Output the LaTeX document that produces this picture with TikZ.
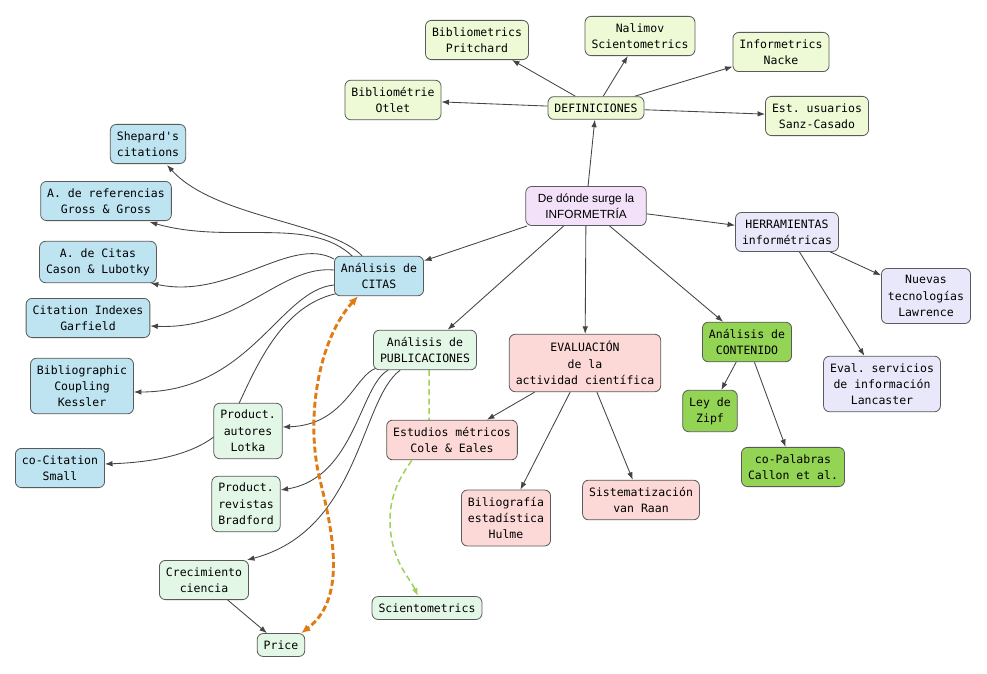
\documentclass[tikz,border=0pt]{standalone}
\usepackage{fontspec}
\setmonofont{DejaVu Sans Mono}
\newfontfamily\hsans{Liberation Sans}
\usetikzlibrary{arrows.meta,calc,backgrounds}
\definecolor{cdef}{HTML}{EEFAD6}
\definecolor{cblue}{HTML}{BEE3F1}
\definecolor{cpub}{HTML}{E2F7E6}
\definecolor{cpink}{HTML}{FCD9D6}
\definecolor{ccont}{HTML}{94D454}
\definecolor{cherr}{HTML}{E9E8FA}
\definecolor{cinf}{HTML}{F3E1FA}
\definecolor{boxline}{HTML}{5A5A5A}
\definecolor{edgec}{HTML}{444444}
\definecolor{corange}{HTML}{E07A12}
\definecolor{cgreend}{HTML}{9ED15A}
\begin{document}
\begin{tikzpicture}[x=1pt,y=-1pt,
  box/.style={draw=boxline, line width=0.8pt, rounded corners=6pt, align=center,
    font=\ttfamily\fontsize{11.5}{16.3}\selectfont, inner xsep=6.5pt, inner ysep=7pt},
  defb/.style={box, fill=cdef},
  blueb/.style={box, fill=cblue},
  pubb/.style={box, fill=cpub},
  pinkb/.style={box, fill=cpink},
  contb/.style={box, fill=ccont},
  herrb/.style={box, fill=cherr},
  infb/.style={box, fill=cinf, font=\hsans\fontsize{11.8}{16.3}\selectfont, inner xsep=12pt},
  link/.style={draw=edgec, line width=0.85pt, -{Latex[length=7.5pt,width=5.5pt]}},
  orangelink/.style={draw=corange, line width=2.9pt, dash pattern=on 6pt off 3pt,
    {Latex[length=9pt,width=8pt]}-{Latex[length=9pt,width=8pt]}},
  greenlink/.style={draw=cgreend, line width=1.5pt, dash pattern=on 6pt off 3.5pt,
    -{Latex[length=8pt,width=6pt]}},
]
\useasboundingbox (0,0) rectangle (987,674);

% nodes
\node[defb] (def) at (596,108) {DEFINICIONES};
\node[defb] (prit) at (477,40) {Bibliometrics\\Pritchard};
\node[defb] (nali) at (640,36) {Nalimov\\Scientometrics};
\node[defb] (nack) at (781,52) {Informetrics\\Nacke};
\node[defb] (otle) at (393,100) {Bibliométrie\\Otlet};
\node[defb] (sanz) at (817,116) {Est. usuarios\\Sanz-Casado};
\node[infb] (inf) at (586,206) {De dónde surge la\\INFORMETRÍA};
\node[herrb] (herr) at (787,232) {HERRAMIENTAS\\informétricas};
\node[herrb] (nuev) at (926,296) {Nuevas\\tecnologías\\Lawrence};
\node[herrb] (lanc) at (882,384) {Eval. servicios\\de información\\Lancaster};
\node[blueb] (citas) at (379,276) {Análisis de\\CITAS};
\node[blueb] (shep) at (148,144) {Shepard's\\citations};
\node[blueb] (gross) at (106,201) {A. de referencias\\Gross \& Gross};
\node[blueb] (cason) at (98,262) {A. de Citas\\Cason \& Lubotky};
\node[blueb] (garf) at (88,318) {Citation Indexes\\Garfield};
\node[blueb] (kess) at (82,386) {Bibliographic\\Coupling\\Kessler};
\node[blueb] (small) at (60,468) {co-Citation\\Small};
\node[pubb] (pub) at (425,350) {Análisis de\\PUBLICACIONES};
\node[pubb] (lotka) at (248,431) {Product.\\autores\\Lotka};
\node[pubb] (bradf) at (246,504) {Product.\\revistas\\Bradford};
\node[pubb] (crec) at (204,580) {Crecimiento\\ciencia};
\node[pubb] (price) at (281,645) {Price};
\node[pubb] (scien) at (427,608) {Scientometrics};
\node[pinkb] (eval) at (585,363) {EVALUACIÓN\\de la\\actividad científica};
\node[pinkb] (cole) at (452,440) {Estudios métricos\\Cole \& Eales};
\node[pinkb] (hulme) at (506,518) {Biliografía\\estadística\\Hulme};
\node[pinkb] (sist) at (641,500) {Sistematización\\van Raan};
\node[contb] (cont) at (747,342) {Análisis de\\CONTENIDO};
\node[contb] (zipf) at (710,411) {Ley de\\Zipf};
\node[contb] (copal) at (793,467) {co-Palabras\\Callon et al.};

\begin{scope}[on background layer]
\fill[white] (0,0) rectangle (987,674);
% straight connectors
\draw[link] (inf) -- (def);
\draw[link] (def) -- (prit);
\draw[link] (def) -- (nali);
\draw[link] (def) -- (nack);
\draw[link] (def) -- (otle);
\draw[link] (def) -- (sanz);
\draw[link] (inf) -- (herr);
\draw[link] (herr) -- (nuev);
\draw[link] (herr) -- (lanc);
\draw[link] (inf) -- (citas);
\draw[link] (inf) -- (pub);
\draw[link] (inf) -- (eval);
\draw[link] (inf) -- (cont);
\draw[link] (cont) -- (zipf);
\draw[link] (cont) -- (copal);
\draw[link] (eval) -- (cole);
\draw[link] (eval) -- (hulme);
\draw[link] (eval) -- (sist);
\draw[link] (crec) -- (price);
% curved connectors from CITAS
\draw[link] ($(citas.north)+(-17,0)$) .. controls (330,222) and (215,218) .. ($(shep.south)+(19,1)$);
\draw[link] ($(citas.north)+(-26,1)$) .. controls (310,215) and (230,245) .. ($(gross.south east)+(-22,1)$);
\draw[link] ($(citas.west)+(0,-17)$) .. controls (290,235) and (230,300) .. ($(cason.south east)+(-6,0)$);
\draw[link] ($(citas.west)+(0,-6)$) .. controls (280,265) and (240,330) .. ($(garf.east)+(0,8)$);
\draw[link] ($(citas.west)+(0,9)$) .. controls (280,290) and (250,392) .. ($(kess.east)+(0,6)$);
\draw[link] ($(citas.south west)+(4,-3)$) .. controls (280,305) and (255,370) .. (235,412)
   .. controls (215,452) and (160,462) .. ($(small.east)+(0,-4)$);
% curved connectors from PUBLICACIONES
\draw[link] ($(pub.south west)+(3,-2)$) .. controls (355,375) and (345,425) .. ($(lotka.east)+(0,-4)$);
\draw[link] ($(pub.south west)+(15,0)$) .. controls (360,385) and (355,478) .. ($(bradf.east)+(0,-14)$);
\draw[link] ($(pub.south west)+(27,0)$) .. controls (360,400) and (360,530) .. ($(crec.north east)+(-2,0)$);
% dashed links
\draw[greenlink] ($(pub.south)+(4,0)$) -- (429,425) .. controls (430,450) and (390,470) .. (390,520)
   .. controls (390,560) and (410,578) .. ($(scien.north)+(-9,0)$);
\draw[orangelink] ($(citas.south)+(-21,0)$) .. controls (318,340) and (305,420) .. (320,480)
   .. controls (335,540) and (345,600) .. ($(price.north east)+(-4,0)$);
\end{scope}
\end{tikzpicture}
\end{document}
